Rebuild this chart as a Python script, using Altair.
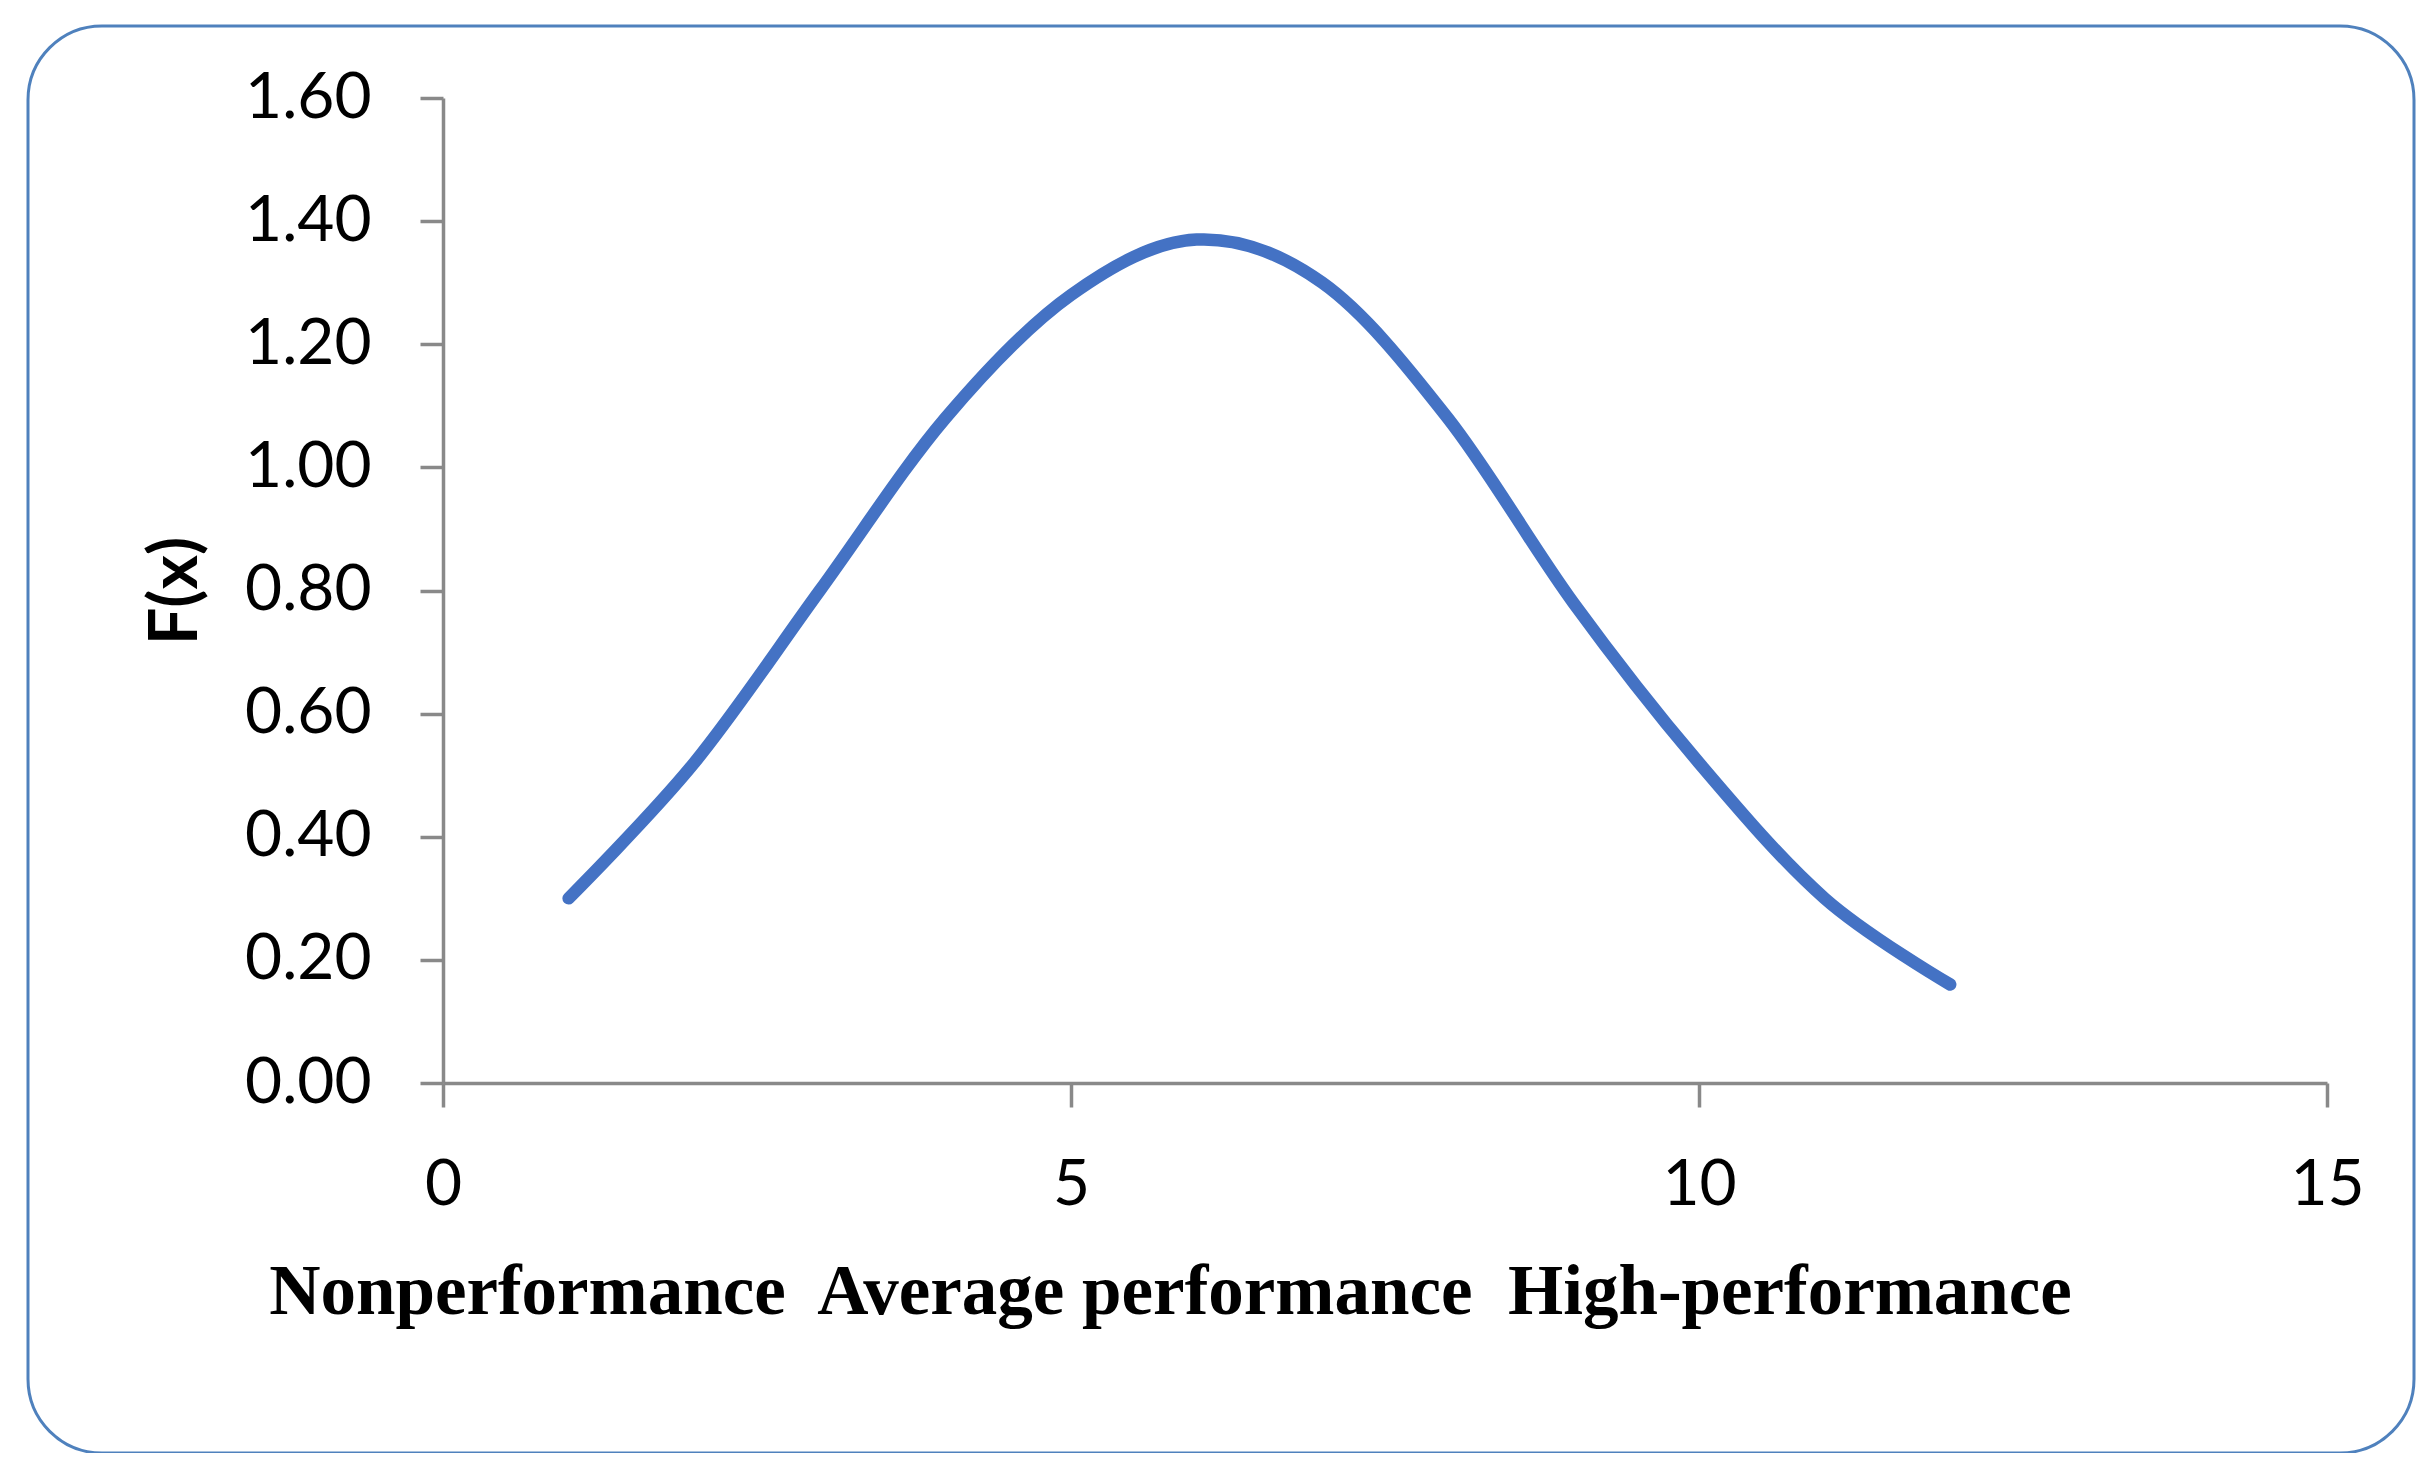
import altair as alt
import pandas as pd

# data
x_vals = [1, 2, 3, 4, 5, 6, 7, 8, 9, 10, 11, 12]
fx_vals = [0.30, 0.52, 0.80, 1.08, 1.28, 1.37, 1.30, 1.08, 0.78, 0.52, 0.30, 0.16]
x_ticks = [0, 5, 10, 15]
y_ticks = [0.0, 0.2, 0.4, 0.6, 0.8, 1.0, 1.2, 1.4, 1.6]
x_title = "Nonperformance\u00a0 Average performance\u00a0 High-performance"
y_title = "F(x)"

df = pd.DataFrame({"x": x_vals, "fx": fx_vals})

W, H = 1884, 985
AXIS_GRAY = "#898989"

line = alt.Chart(df).mark_line(
    color="#4472C4", strokeWidth=12.5, interpolate="cardinal", strokeCap="round"
).encode(
    x=alt.X(
        "x:Q",
        scale=alt.Scale(domain=[0, 15], nice=False, zero=False),
        axis=alt.Axis(
            values=x_ticks,
            title=x_title,
            titleFont="Liberation Serif",
            titleFontSize=71,
            titleFontWeight="bold",
            titleColor="black",
            titleX=727,
            titleY=230,
            titleAlign="center",
            titleBaseline="alphabetic",
            labelFont="Lato",
            labelFontSize=64,
            labelColor="black",
            labelPadding=46,
            labelFlush=False,
            tickSize=24,
            grid=False,
        ),
    ),
    y=alt.Y(
        "fx:Q",
        scale=alt.Scale(domain=[0, 1.6], nice=False),
        axis=alt.Axis(
            values=y_ticks,
            format=".2f",
            title=y_title,
            titleFont="Lato",
            titleFontSize=66,
            titleFontWeight="bold",
            titleColor="black",
            titleAngle=270,
            titleX=-267,
            titleY=H / 2,
            titleAlign="center",
            titleBaseline="middle",
            labelFont="Lato",
            labelFontSize=64,
            labelColor="black",
            labelPadding=49,
            labelFlush=False,
            tickSize=23,
            grid=False,
        ),
    ),
)

border = alt.Chart(pd.DataFrame({"a": [0]})).mark_rect(
    fill=None, fillOpacity=0, stroke="#4F81BD", strokeWidth=3, cornerRadius=74
).encode(
    x=alt.value(-415), x2=alt.value(1971), y=alt.value(-72), y2=alt.value(1355)
)

chart = alt.layer(border, line).properties(
    width=W,
    height=H,
    autosize=alt.AutoSizeParams(type="none"),
    padding={"left": 435, "top": 90, "right": 100, "bottom": 370},
).configure_view(stroke=None).configure_axis(
    domainColor=AXIS_GRAY, domainWidth=3.5, tickColor=AXIS_GRAY, tickWidth=3.5
)

chart.save("out.html", embed_options={"renderer": "svg", "actions": False})
